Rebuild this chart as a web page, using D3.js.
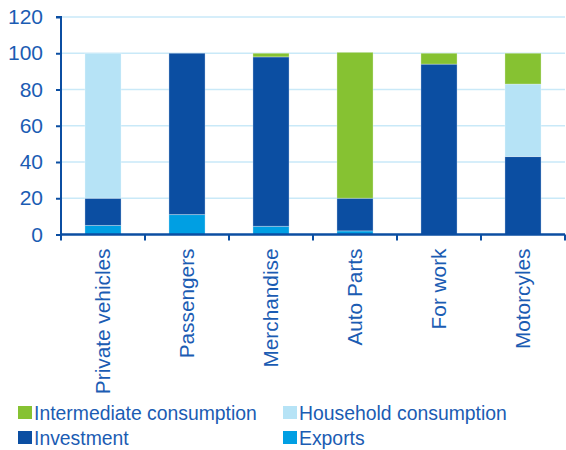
<!DOCTYPE html>
<html>
<head>
<meta charset="utf-8">
<script src="https://cdn.jsdelivr.net/npm/d3@7"></script>
<style>
  html, body { margin: 0; padding: 0; background: #fff; }
  svg { display: block; font-family: "Liberation Sans", Arial, sans-serif; }
</style>
</head>
<body>
<svg id="chart" width="566" height="450"></svg>
<script>
// Demand breakdown by vehicle segment (% of total)
const categories = ["Private vehicles", "Passengers", "Merchandise", "Auto Parts", "For work", "Motorcyles"];
const exportsVals      = [5, 11, 4.5, 2, 0, 0];
const investmentVals   = [15, 89, 93.5, 18, 94, 43];
const householdVals    = [80, 0, 0, 0, 0, 40];
const intermediateVals = [0, 0, 2, 80.5, 6, 17];
const yTicks = [0, 20, 40, 60, 80, 100, 120];

const seriesNames = ["Exports", "Investment", "Household consumption", "Intermediate consumption"];
const seriesValues = [exportsVals, investmentVals, householdVals, intermediateVals];
const colors = {
  "Exports": "#009FE3",
  "Investment": "#0B4EA2",
  "Household consumption": "#B6E3F6",
  "Intermediate consumption": "#86C232"
};
const textColor = "#1B5CB3";
const axisColor = "#0B4EA2";

const rows = categories.map((c, i) => {
  const r = { category: c };
  seriesNames.forEach((s, k) => { r[s] = seriesValues[k][i]; });
  return r;
});

const svg = d3.select("#chart");
const margin = { left: 61, right: 1, top: 17, bottom: 215.5 };
const width = 566 - margin.left - margin.right;
const height = 450 - margin.top - margin.bottom;

const g = svg.append("g").attr("transform", `translate(${margin.left},${margin.top})`);

const x = d3.scaleBand().domain(categories).range([0, width]).paddingInner(0.57).paddingOuter(0.285);
const xTickScale = d3.scaleBand().domain(categories).range([0, width]);
const y = d3.scaleLinear().domain([0, 120]).range([height, 0]);

// horizontal grid
g.append("g").selectAll("line").data(yTicks.filter(t => t > 0)).join("line")
  .attr("x1", 0).attr("x2", width)
  .attr("y1", d => y(d)).attr("y2", d => y(d))
  .attr("stroke", "#C9E9F8").attr("stroke-width", 1.5);

// stacked bars
const stack = d3.stack().keys(seriesNames);
const layers = stack(rows);
g.append("g").selectAll("g").data(layers).join("g")
  .attr("fill", d => colors[d.key])
  .selectAll("rect").data(d => d.filter(p => p[1] - p[0] > 0)).join("rect")
  .attr("x", d => x(d.data.category))
  .attr("width", x.bandwidth())
  .attr("y", d => y(d[1]))
  .attr("height", d => y(d[0]) - y(d[1]))
  .attr("stroke", "rgba(255,255,255,0.3)")
  .attr("stroke-width", 1);

// y axis
const yAxis = g.append("g")
  .call(d3.axisLeft(y).tickValues(yTicks).tickSize(5).tickPadding(13));
yAxis.select(".domain").attr("stroke", axisColor).attr("stroke-width", 2)
  .attr("d", `M-5,${y(120)}H0V${height}`);
yAxis.selectAll(".tick line").attr("stroke", axisColor).attr("stroke-width", 2);
yAxis.selectAll(".tick text").attr("fill", textColor).attr("font-size", "21px")
  .attr("font-family", "Liberation Sans, Arial, sans-serif");

// x axis: ticks at category boundaries
const xg = g.append("g").attr("transform", `translate(0,${height})`);
xg.append("line").attr("x1", 0).attr("x2", width).attr("y1", 0).attr("y2", 0)
  .attr("stroke", axisColor).attr("stroke-width", 2.5);
const bounds = categories.map(c => xTickScale(c)).concat([width]);
xg.selectAll("line.tk").data(bounds).join("line").attr("class", "tk")
  .attr("x1", d => d).attr("x2", d => d).attr("y1", 0).attr("y2", 6)
  .attr("stroke", axisColor).attr("stroke-width", 2);
xg.selectAll("text").data(categories).join("text")
  .attr("transform", d => `translate(${xTickScale(d) + xTickScale.bandwidth() / 2},14) rotate(-90)`)
  .attr("text-anchor", "end")
  .attr("dy", "0.35em")
  .attr("fill", textColor)
  .attr("font-size", "20.8px")
  .text(d => d);

// legend
const legendItems = [
  { name: "Intermediate consumption", col: 0, row: 0 },
  { name: "Household consumption", col: 1, row: 0 },
  { name: "Investment", col: 0, row: 1 },
  { name: "Exports", col: 1, row: 1 }
];
const legend = svg.append("g");
const li = legend.selectAll("g").data(legendItems).join("g")
  .attr("transform", d => `translate(${18 + d.col * 265},${406 + d.row * 25})`);
li.append("rect").attr("width", 14).attr("height", 13).attr("fill", d => colors[d.name]);
li.append("text").attr("transform", "translate(16,14) scale(0.945,1)").attr("fill", textColor)
  .attr("font-size", "20.5px").text(d => d.name);
</script>
</body>
</html>
